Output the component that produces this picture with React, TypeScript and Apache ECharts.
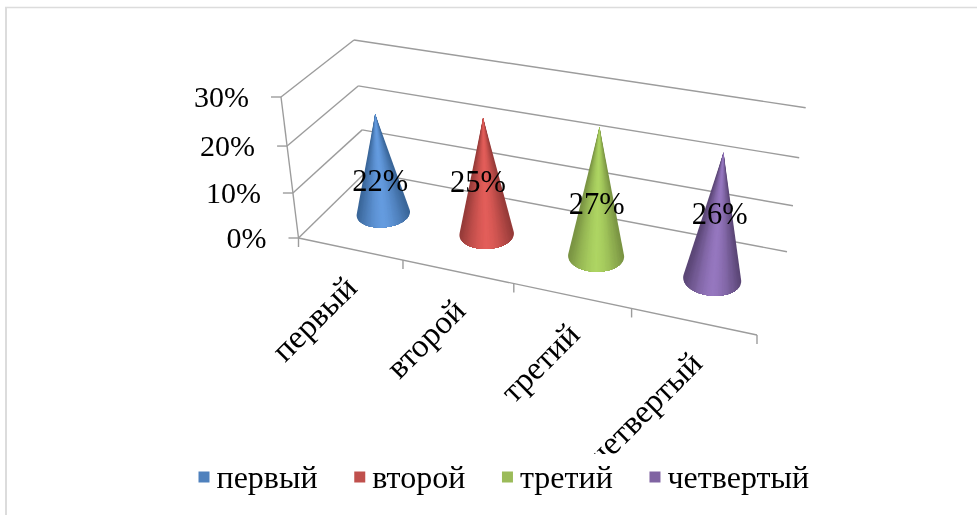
import React, { useEffect, useRef } from "react";
import * as echarts from "echarts";

const categories = ["первый", "второй", "третий", "четвертый"];
const values = [22, 25, 27, 26];
const valueTicks = [0, 10, 20, 30];
const valueTickLabels = ["0%", "10%", "20%", "30%"];
const legendColors = ["#4F81BD", "#C0504D", "#9BBB59", "#8064A2"];
const coneEdge = ["#3a6699", "#963b39", "#7a9443", "#5b4676"];
const coneLight = ["#659ce0", "#e35e5a", "#aed563", "#9678c0"];

const W = 977;
const H = 515;
const FONT = "'Liberation Serif', 'Times New Roman', serif";
const VALUE_FONT_SIZE = 30;
const DATA_FONT_SIZE = 30.5;
const CATEGORY_FONT_SIZE = 33;
const LEGEND_FONT_SIZE = 32;
const GRID = "#9c9c9c";
const SHADE_STEPS = 30;

// Outline of the 3D box on the page
type P = [number, number];
const FLOOR: P[] = [[298.5, 238], [757, 335], [787, 251.7], [366, 172]];
const TOP: P[] = [[281, 97], [775.4, 181], [805.7, 107.7], [354, 40]];
const HEIGHT_PERSPECTIVE = 1.067;
const CONE_DEPTH = 0.5;
const CONE_RADIUS_U = 0.059;
const CONE_RADIUS_D = 0.192;
const LABEL_NUDGE: P[] = [[1, 17], [-7, 6], [-1, 13], [2, -2]];
const CATEGORY_LABEL_NUDGE: P[] = [[1, 33], [2, 33], [2, 33], [3, 36]];

function homography(q: P[]) {
  const [[x0, y0], [x1, y1], [x2, y2], [x3, y3]] = q;
  const sx = x0 - x1 + x2 - x3;
  const sy = y0 - y1 + y2 - y3;
  const dx1 = x1 - x2, dx2 = x3 - x2, dy1 = y1 - y2, dy2 = y3 - y2;
  const den = dx1 * dy2 - dx2 * dy1;
  const g = (sx * dy2 - dx2 * sy) / den;
  const h = (dx1 * sy - sx * dy1) / den;
  const a = x1 - x0 + g * x1, b = x3 - x0 + h * x3;
  const d = y1 - y0 + g * y1, e = y3 - y0 + h * y3;
  return (u: number, v: number): P => {
    const w = g * u + h * v + 1;
    return [(a * u + b * v + x0) / w, (d * u + e * v + y0) / w];
  };
}
const floorMap = homography(FLOOR);
const topMap = homography(TOP);

// u: along categories 0..1, d: depth 0..1, h: height 0..1
function project(u: number, d: number, h: number): P {
  const f = floorMap(u, d);
  const t = topMap(u, d);
  const k = h / (h + (1 - h) * HEIGHT_PERSPECTIVE);
  return [f[0] + (t[0] - f[0]) * k, f[1] + (t[1] - f[1]) * k];
}

function hull(points: P[]): P[] {
  const s = [...points].sort((a, b) => a[0] - b[0] || a[1] - b[1]);
  const cross = (o: P, a: P, b: P) => (a[0] - o[0]) * (b[1] - o[1]) - (a[1] - o[1]) * (b[0] - o[0]);
  const lo: P[] = [];
  for (const p of s) {
    while (lo.length >= 2 && cross(lo[lo.length - 2], lo[lo.length - 1], p) <= 0) lo.pop();
    lo.push(p);
  }
  const up: P[] = [];
  for (let i = s.length - 1; i >= 0; i--) {
    const p = s[i];
    while (up.length >= 2 && cross(up[up.length - 2], up[up.length - 1], p) <= 0) up.pop();
    up.push(p);
  }
  lo.pop();
  up.pop();
  return lo.concat(up);
}

function mix(a: string, b: string, t: number) {
  const c = (s: string, i: number) => parseInt(s.slice(1 + i * 2, 3 + i * 2), 16);
  const v = [0, 1, 2].map((i) => Math.round(c(a, i) + (c(b, i) - c(a, i)) * t));
  return `rgb(${v[0]},${v[1]},${v[2]})`;
}

const toU = (px: number) => px / W;
const toH = (py: number) => 1 - py / H;

function line(a: P, b: P, z2 = 1) {
  return {
    type: "line",
    z2,
    shape: { x1: a[0], y1: a[1], x2: b[0], y2: b[1] },
    style: { stroke: GRID, lineWidth: 1.4 },
  };
}

function renderFrame(params: any, api: any) {
  const i = params.dataIndex;
  const p = api.coord([0, api.value(1)]);
  const h = toH(p[1]);
  const frontLeft = project(0, 0, h);
  const backLeft = project(0, 1, h);
  const backRight = project(1, 1, h);
  const children: any[] = [
    line(frontLeft, backLeft),
    line(backLeft, backRight),
    line(frontLeft, [frontLeft[0] - 10, frontLeft[1]]),
    {
      type: "text",
      x: frontLeft[0] - 32,
      y: frontLeft[1] - 1,
      style: {
        text: valueTickLabels[i],
        font: `${VALUE_FONT_SIZE}px ${FONT}`,
        fill: "#000",
        align: "right",
        verticalAlign: "middle",
      },
    },
  ];
  if (i === 0) {
    children.push(line(frontLeft, project(0, 0, 1)));
    children.push(line(frontLeft, [frontLeft[0], frontLeft[1] + 9]));
    children.push(line(frontLeft, project(1, 0, 0)));
  }
  return { type: "group", children };
}

function renderCategoryAxis(params: any, api: any) {
  const i = params.dataIndex;
  const c = api.coord([i, 0]);
  const band = api.size([1, 0])[0];
  const uc = toU(c[0]);
  const uEnd = toU(c[0] + band / 2);
  const tick = project(uEnd, 0, 0);
  const mid = project(uc, 0, 0);
  const nudge = CATEGORY_LABEL_NUDGE[i];
  const children: any[] = [
    line(tick, [tick[0], tick[1] + 9]),
    {
      type: "text",
      x: mid[0] + nudge[0],
      y: mid[1] + nudge[1],
      rotation: Math.PI / 4,
      originX: 0,
      originY: 0,
      style: {
        text: categories[i],
        font: `${CATEGORY_FONT_SIZE}px ${FONT}`,
        fill: "#000",
        align: "right",
        verticalAlign: "middle",
      },
    },
  ];
  return { type: "group", children };
}

function renderCone(i: number) {
  return (_params: any, api: any) => {
    const base = api.coord([api.value(0), 0]);
    const top = api.coord([api.value(0), api.value(1)]);
    const uc = toU(base[0]);
    const h = toH(top[1]);
    const apex = project(uc, CONE_DEPTH, h);
    const rim: P[] = [];
    for (let k = 0; k < 144; k++) {
      const a = (k / 144) * Math.PI * 2;
      rim.push(project(uc + CONE_RADIUS_U * Math.cos(a), CONE_DEPTH + CONE_RADIUS_D * Math.sin(a), 0));
    }
    const xs = rim.map((r) => r[0]);
    const minX = Math.min(...xs);
    const maxX = Math.max(...xs);
    const mid = (minX + maxX) / 2;
    const half = (maxX - minX) / 2;
    const outline = hull([apex, ...rim]);
    const start = outline.findIndex((o) => o[0] === apex[0] && o[1] === apex[1]);
    // The front arc of the base, from one silhouette edge to the other.
    const arc: P[] = [];
    for (let k = 1; k < outline.length; k++) arc.push(outline[(start + k) % outline.length]);
    const children: any[] = [];
    // Nested wedges, outermost first, so that no seam can show between shades.
    for (let s = 0; s < SHADE_STEPS; s++) {
      const limit = 1 - s / SHADE_STEPS;
      const part = s === 0 ? arc : arc.filter((q) => Math.abs(q[0] - mid) / half <= limit);
      if (part.length < 2) continue;
      children.push({
        type: "polygon",
        z2: 5 + s,
        shape: { points: [apex, ...part] },
        style: { fill: mix(coneLight[i], coneEdge[i], Math.pow(limit, 1.6)) },
      });
    }
    const center = project(uc, CONE_DEPTH, 0);
    const nudge = LABEL_NUDGE[i];
    children.push({
      type: "text",
      z2: 50,
      x: (center[0] + apex[0]) / 2 + nudge[0],
      y: (center[1] + apex[1]) / 2 + nudge[1],
      style: {
        text: `${api.value(1)}%`,
        font: `${DATA_FONT_SIZE}px ${FONT}`,
        fill: "#000",
        align: "center",
        verticalAlign: "middle",
      },
    });
    return { type: "group", children };
  };
}

export default function App() {
  const ref = useRef<HTMLDivElement>(null);
  useEffect(() => {
    document.body.style.margin = "0";
    document.body.style.background = "#fff";
    const chart = echarts.init(ref.current!, undefined, { renderer: "svg" });
    chart.setOption({
      animation: false,
      backgroundColor: "#fff",
      grid: { left: 0, top: 0, width: W, height: H },
      xAxis: { type: "category", data: categories, show: false },
      yAxis: { type: "value", min: 0, max: 30, interval: 10, show: false },
      legend: {
        left: 193.5,
        top: 456,
        padding: [5, 5],
        z: 95,
        itemWidth: 11,
        itemHeight: 11,
        itemGap: 36.7,
        icon: "rect",
        selectedMode: false,
        data: categories.map((name, i) => ({ name, itemStyle: { color: legendColors[i] } })),
        textStyle: {
          fontFamily: FONT,
          fontSize: LEGEND_FONT_SIZE,
          color: "#000",
          padding: [0, 0, 0, 2],
        },
      },
      graphic: [
        {
          type: "rect",
          z: 90,
          shape: { x: 150, y: 454, width: 700, height: 40 },
          style: { fill: "#fff" },
        },
        { type: "line", z: 91, shape: { x1: 5, y1: 7.5, x2: 977, y2: 7.5 }, style: { stroke: "#dcdcdc", lineWidth: 1.5 } },
        { type: "line", z: 91, shape: { x1: 6, y1: 7, x2: 6, y2: 515 }, style: { stroke: "#dcdcdc", lineWidth: 2 } },
      ],
      series: [
        {
          type: "custom",
          name: "frame",
          coordinateSystem: "cartesian2d",
          z: 1,
          silent: true,
          clip: false,
          data: valueTicks.map((v) => [0, v]),
          encode: { x: 0, y: 1 },
          renderItem: renderFrame,
        },
        {
          type: "custom",
          name: "axis",
          coordinateSystem: "cartesian2d",
          z: 1,
          silent: true,
          clip: false,
          data: categories.map((_, i) => [i, 0]),
          encode: { x: 0, y: 1 },
          renderItem: renderCategoryAxis,
        },
        ...categories.map((name, i) => ({
          type: "custom",
          name,
          coordinateSystem: "cartesian2d",
          z: 3,
          silent: true,
          clip: false,
          itemStyle: { color: legendColors[i] },
          data: [[i, values[i]]],
          encode: { x: 0, y: 1 },
          renderItem: renderCone(i),
        })),
      ],
    });
    return () => chart.dispose();
  }, []);
  return (
    <div
      ref={ref}
      style={{ position: "absolute", left: 0, top: 0, width: W, height: H, filter: "blur(0.45px)" }}
    />
  );
}
